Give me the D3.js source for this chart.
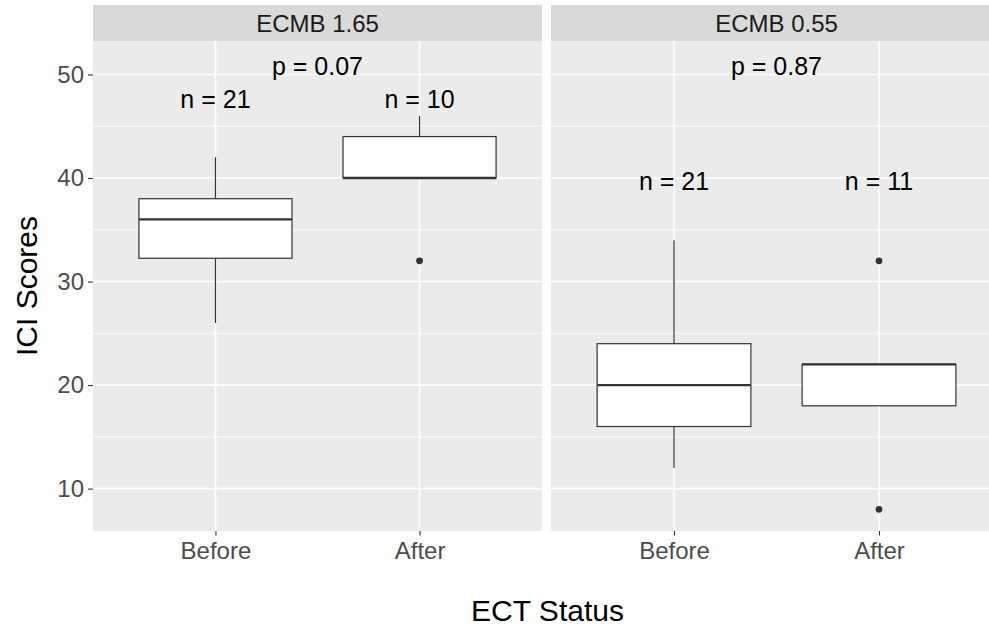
<!DOCTYPE html>
<html>
<head>
<meta charset="utf-8">
<script src="https://cdn.jsdelivr.net/npm/d3@7"></script>
<style>
  html, body { margin: 0; padding: 0; background: #ffffff; overflow: hidden; }
  svg { display: block; font-family: "Liberation Sans", Arial, sans-serif; }
</style>
</head>
<body>
<svg id="chart" width="989" height="627"></svg>
<script>
// ---- data ----
const panels = ["ECMB 1.65", "ECMB 0.55"];
const categories = ["Before", "After"];
// order: [panel1 Before, panel1 After, panel2 Before, panel2 After]
const lowerWhiskers = [26, 40, 12, 18];
const q1Values      = [32.25, 40, 16, 18];
const medians       = [36, 40, 20, 22];
const q3Values      = [38, 44, 24, 22];
const upperWhiskers = [42, 46, 34, 22];
const outliers      = [[], [32], [], [32, 8]];
const nLabels       = ["n = 21", "n = 10", "n = 21", "n = 11"];
const nLabelY       = [46.8, 46.8, 38.8, 38.8];
const pLabels       = ["p = 0.07", "p = 0.87"];
const pLabelY       = [49.9, 49.9];
const yTicks        = [10, 20, 30, 40, 50];
const yMinorTicks   = [15, 25, 35, 45];
const yDomain       = [5.91, 53.23];

// ---- layout ----
const svg = d3.select("#chart");
const panelLeft = [93, 551];
const panelRight = [542, 1002];
const stripTop = 5, plotTop = 41, plotBottom = 531;

const y = d3.scaleLinear().domain(yDomain).range([plotBottom, plotTop]);

const boxStroke = "#333333";

panels.forEach((pname, pi) => {
  const x0 = panelLeft[pi], x1 = panelRight[pi];
  const x = d3.scalePoint().domain(categories).range([x0, x1]).padding(0.6);
  const step = x.step();
  const boxW = step * 0.75;

  const g = svg.append("g");
  g.append("rect").attr("x", x0).attr("y", plotTop).attr("width", x1 - x0)
    .attr("height", plotBottom - plotTop).attr("fill", "#EBEBEB");
  // strip
  g.append("rect").attr("x", x0).attr("y", stripTop).attr("width", x1 - x0)
    .attr("height", plotTop - stripTop).attr("fill", "#D9D9D9");
  g.append("text").attr("x", (x0 + x1) / 2).attr("y", (stripTop + plotTop) / 2)
    .attr("dy", "0.36em").attr("text-anchor", "middle")
    .attr("font-size", 24).attr("fill", "#1A1A1A").text(pname);

  // minor grid
  g.selectAll(".ymin").data(yMinorTicks).join("line")
    .attr("x1", x0).attr("x2", x1)
    .attr("y1", d => y(d)).attr("y2", d => y(d))
    .attr("stroke", "#ffffff").attr("stroke-width", 0.8);
  // major grid
  g.selectAll(".ymaj").data(yTicks).join("line")
    .attr("x1", x0).attr("x2", x1)
    .attr("y1", d => y(d)).attr("y2", d => y(d))
    .attr("stroke", "#ffffff").attr("stroke-width", 1.6);
  g.selectAll(".xmaj").data(categories).join("line")
    .attr("x1", d => x(d)).attr("x2", d => x(d))
    .attr("y1", plotTop).attr("y2", plotBottom)
    .attr("stroke", "#ffffff").attr("stroke-width", 1.6);

  categories.forEach((cat, ci) => {
    const k = pi * 2 + ci;
    const cx = x(cat);
    // whiskers
    g.append("line").attr("x1", cx).attr("x2", cx)
      .attr("y1", y(q3Values[k])).attr("y2", y(upperWhiskers[k]))
      .attr("stroke", boxStroke).attr("stroke-width", 1.2);
    g.append("line").attr("x1", cx).attr("x2", cx)
      .attr("y1", y(q1Values[k])).attr("y2", y(lowerWhiskers[k]))
      .attr("stroke", boxStroke).attr("stroke-width", 1.2);
    // box
    g.append("rect").attr("x", cx - boxW / 2).attr("width", boxW)
      .attr("y", y(q3Values[k])).attr("height", y(q1Values[k]) - y(q3Values[k]))
      .attr("fill", "#ffffff").attr("stroke", boxStroke).attr("stroke-width", 1.2);
    // median
    g.append("line").attr("x1", cx - boxW / 2).attr("x2", cx + boxW / 2)
      .attr("y1", y(medians[k])).attr("y2", y(medians[k]))
      .attr("stroke", boxStroke).attr("stroke-width", 2.4);
    // outliers
    g.selectAll(null).data(outliers[k]).join("circle")
      .attr("cx", cx).attr("cy", d => y(d)).attr("r", 3.4)
      .attr("fill", boxStroke);
    // n label
    g.append("text").attr("x", cx).attr("y", y(nLabelY[k]))
      .attr("text-anchor", "middle").attr("font-size", 25).attr("fill", "#000000")
      .text(nLabels[k]);
  });

  // p label
  g.append("text").attr("x", (x0 + x1) / 2).attr("y", y(pLabelY[pi]))
    .attr("text-anchor", "middle").attr("font-size", 25).attr("fill", "#000000")
    .text(pLabels[pi]);

  // x axis
  const xAxis = d3.axisBottom(x).tickSize(4.5).tickPadding(6);
  const xg = svg.append("g").attr("transform", `translate(0,${plotBottom})`).call(xAxis);
  xg.select(".domain").remove();
  xg.selectAll(".tick line").attr("stroke", boxStroke).attr("stroke-width", 1.1);
  xg.selectAll(".tick text").attr("font-size", 24).attr("fill", "#4D4D4D")
    .attr("font-family", "Liberation Sans, Arial, sans-serif");
});

// y axis
const yAxis = d3.axisLeft(y).tickValues(yTicks).tickSize(5).tickPadding(4);
const yg = svg.append("g").attr("transform", `translate(${panelLeft[0]},0)`).call(yAxis);
yg.select(".domain").remove();
yg.selectAll(".tick line").attr("stroke", boxStroke).attr("stroke-width", 1.1);
yg.selectAll(".tick text").attr("font-size", 24).attr("fill", "#4D4D4D")
  .attr("font-family", "Liberation Sans, Arial, sans-serif");

// axis titles
svg.append("text").attr("x", (panelLeft[0] + panelRight[1]) / 2).attr("y", 621)
  .attr("text-anchor", "middle").attr("font-size", 30).attr("fill", "#000000")
  .text("ECT Status");
svg.append("text")
  .attr("transform", `translate(37,${(plotTop + plotBottom) / 2}) rotate(-90)`)
  .attr("text-anchor", "middle").attr("font-size", 30).attr("fill", "#000000")
  .text("ICI Scores");
</script>
</body>
</html>
